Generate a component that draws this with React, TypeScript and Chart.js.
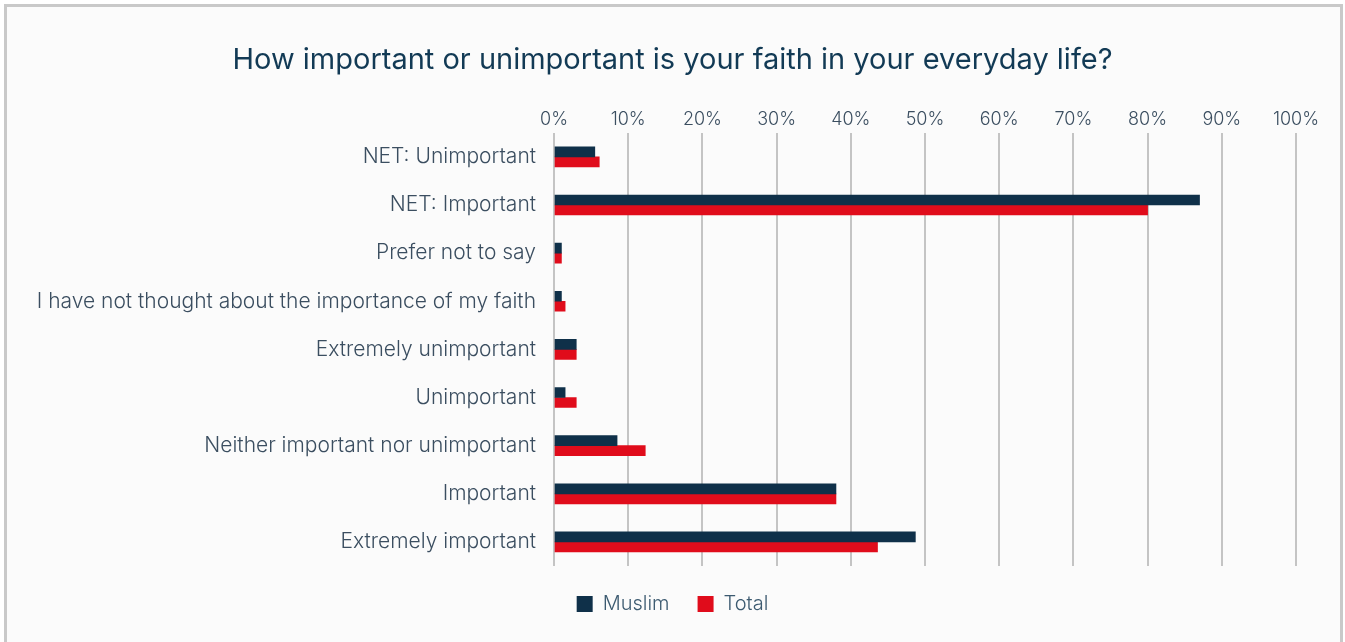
import React, { useEffect, useRef } from "react";
import { Chart, registerables } from "chart.js";

Chart.register(...registerables);

const categories = [
  "NET: Unimportant",
  "NET: Important",
  "Prefer not to say",
  "I have not thought about the importance of my faith",
  "Extremely unimportant",
  "Unimportant",
  "Neither important nor unimportant",
  "Important",
  "Extremely important",
];
const muslimValues = [5.5, 87, 1, 1, 3, 1.5, 8.5, 38, 48.7];
const totalValues = [6.1, 80, 1, 1.5, 3, 3, 12.3, 38, 43.6];
const seriesNames = ["Muslim", "Total"];
const titleText = "How important or unimportant is your faith in your everyday life?";

const FONT = "Inter, 'Noto Sans', sans-serif";

export default function App() {
  const ref = useRef<HTMLCanvasElement | null>(null);
  useEffect(() => {
    document.body.style.margin = "0";
    const ctx = ref.current!.getContext("2d")!;
    const chart = new Chart(ctx, {
      type: "bar",
      data: {
        labels: categories,
        datasets: [
          {
            label: seriesNames[0],
            data: muslimValues,
            backgroundColor: "#0f3049",
            barThickness: 10,
          },
          {
            label: seriesNames[1],
            data: totalValues,
            backgroundColor: "#e00c1b",
            barThickness: 10,
          },
        ],
      },
      options: {
        indexAxis: "y",
        animation: false,
        responsive: false,
        maintainAspectRatio: false,
        layout: { padding: { left: 0, right: 0, top: 0, bottom: 18 } },
        plugins: {
          title: {
            display: true,
            text: titleText,
            color: "#123a55",
            font: { family: FONT, size: 29, weight: "normal" },
            padding: { top: 43, bottom: 0 },
          },
          legend: {
            display: true,
            position: "bottom",
            labels: {
              boxWidth: 16,
              boxHeight: 16,
              color: "#3c5a70",
              font: { family: FONT, size: 20, weight: "300" },
              padding: 28,
            },
          },
          tooltip: { enabled: false },
        },
        scales: {
          x: {
            position: "top",
            min: 0,
            max: 100,
            ticks: {
              stepSize: 10,
              color: "#3b4e60",
              font: { family: FONT, size: 18, weight: "300" },
              padding: 2,
              callback: (v: any) => v + "%",
            },
            grid: { color: "#c4c4c4", lineWidth: 2, drawTicks: false },
            border: { display: false },
            afterFit: (scale: any) => {
              scale.height = 55;
            },
          },
          y: {
            ticks: {
              color: "#3b4e60",
              font: { family: FONT, size: 21, weight: "300" },
              padding: 18,
              autoSkip: false,
            },
            grid: { display: false, drawTicks: false },
            border: { display: false },
            afterFit: (scale: any) => {
              scale.width = 554;
            },
          },
          yRight: {
            type: "linear",
            position: "right",
            display: true,
            ticks: { display: false },
            grid: { display: false, drawTicks: false },
            border: { display: false },
            afterFit: (scale: any) => {
              scale.width = 49;
            },
          },
        },
      },
    });
    return () => chart.destroy();
  }, []);
  return (
    <div style={{ position: "fixed", left: 0, top: 0, width: 1345, height: 642, background: "#fff", overflow: "hidden" }}>
      <div
        style={{
          position: "absolute",
          left: 4,
          top: 4,
          width: 1333,
          height: 700,
          border: "3px solid #c9c9c9",
          background: "#fbfbfb",
        }}
      />
      <canvas ref={ref} width={1345} height={642} style={{ position: "absolute", left: 0, top: 0 }} />
    </div>
  );
}
